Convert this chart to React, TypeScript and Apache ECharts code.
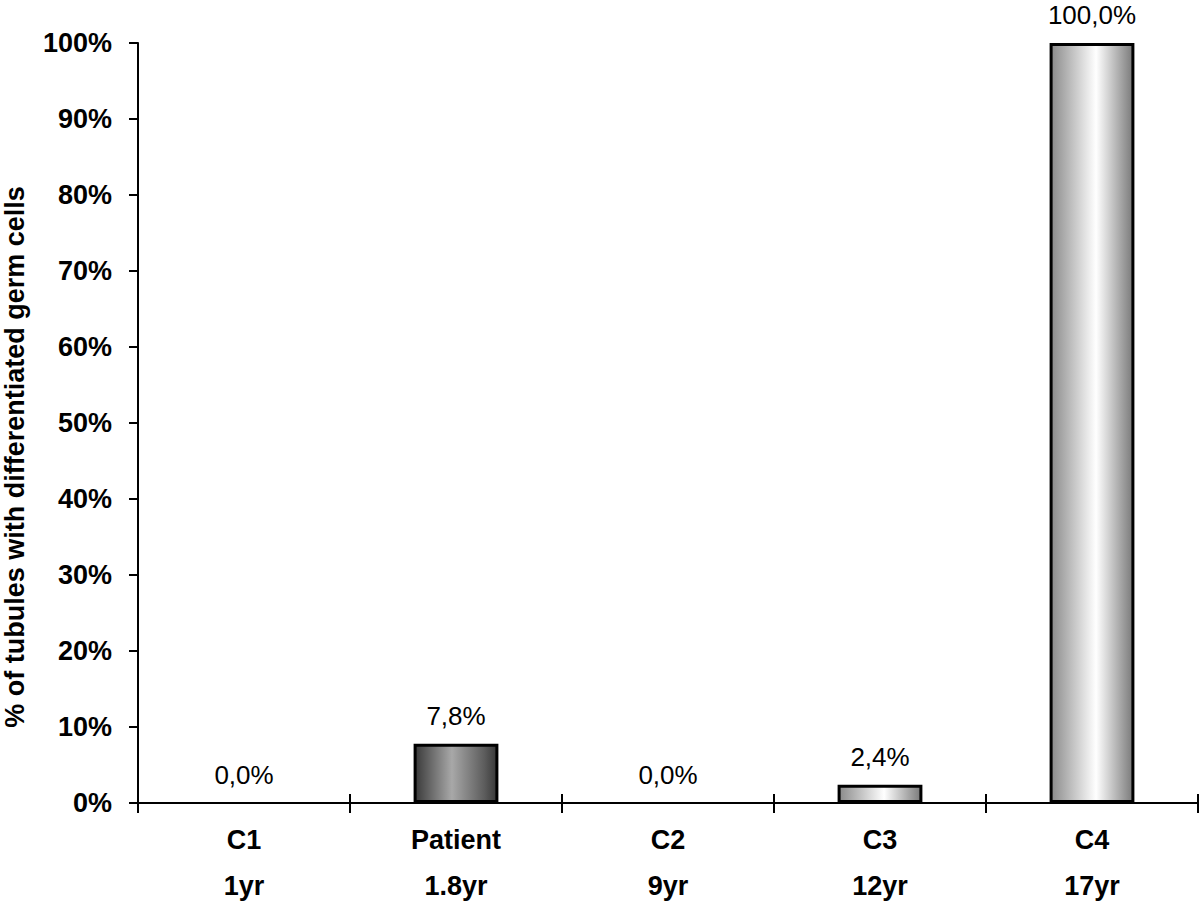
import React, { useEffect, useRef } from "react";
import * as echarts from "echarts";

const categories = ["C1", "Patient", "C2", "C3", "C4"];
const ages = ["1yr", "1.8yr", "9yr", "12yr", "17yr"];
const values = [0, 7.8, 0, 2.4, 100];
const yTicks = [0, 10, 20, 30, 40, 50, 60, 70, 80, 90, 100];
const yTitle = "% of tubules with differentiated germ cells";

const FONT = "'Liberation Sans', Arial, sans-serif";

const darkGrad = new echarts.graphic.LinearGradient(0, 0, 1, 0, [
  { offset: 0, color: "#3a3a3a" },
  { offset: 0.45, color: "#a8a8a8" },
  { offset: 0.85, color: "#5c5c5c" },
  { offset: 1, color: "#383838" },
]);
const lightGrad = new echarts.graphic.LinearGradient(0, 0, 1, 0, [
  { offset: 0, color: "#8a8a8a" },
  { offset: 0.55, color: "#ffffff" },
  { offset: 1, color: "#7a7a7a" },
]);

export default function App() {
  const ref = useRef<HTMLDivElement>(null);
  useEffect(() => {
    if (!ref.current) return;
    const chart = echarts.init(ref.current, null, { renderer: "svg" });
    chart.setOption({
      animation: false,
      backgroundColor: "#ffffff",
      textStyle: { fontFamily: FONT },
      grid: { left: 138, right: 2, top: 43, bottom: 118, containLabel: false },
      xAxis: [
        {
          type: "category",
          data: categories,
          position: "bottom",
          axisLine: { lineStyle: { color: "#000", width: 2 } },
          axisTick: { show: true, length: 10, lineStyle: { color: "#000", width: 2 } },
          axisLabel: {
            margin: 14,
            interval: 0,
            formatter: (v: string) => {
              const i = categories.indexOf(v);
              return "{a|" + v + "}\n{b|" + ages[i] + "}";
            },
            rich: {
              a: { fontFamily: FONT, fontSize: 27, fontWeight: "bold", color: "#000", lineHeight: 46 },
              b: { fontFamily: FONT, fontSize: 27, fontWeight: "bold", color: "#000", lineHeight: 46 },
            },
          },
          splitLine: { show: false },
        },
        {
          type: "category",
          data: categories,
          position: "bottom",
          axisLine: { show: false },
          axisTick: { show: true, inside: true, length: 9, lineStyle: { color: "#000", width: 2 } },
          axisLabel: { show: false },
          splitLine: { show: false },
        },
      ],
      yAxis: {
        type: "value",
        min: 0,
        max: 100,
        interval: 10,
        axisLine: { show: true, lineStyle: { color: "#000", width: 2 } },
        axisTick: { show: true, length: 9, lineStyle: { color: "#000", width: 2 } },
        axisLabel: {
          margin: 26,
          color: "#000",
          fontSize: 27,
          fontWeight: "bold",
          fontFamily: FONT,
          formatter: (v: number) => (yTicks.includes(v) ? v + "%" : ""),
        },
        splitLine: { show: false },
      },
      graphic: [
        {
          type: "text",
          x: 15,
          y: 457,
          rotation: Math.PI / 2,
          style: {
            text: yTitle,
            fontFamily: FONT,
            fontSize: 27,
            fontWeight: "bold",
            fill: "#000",
            align: "center",
            verticalAlign: "middle",
          },
        },
      ],
      series: [
        {
          type: "bar",
          xAxisIndex: 0,
          barWidth: "40%",
          data: values.map((v, i) => ({
            value: v,
            itemStyle: {
              color: i === 1 ? darkGrad : lightGrad,
              borderColor: "#000",
              borderWidth: v > 0 ? 3 : 0,
            },
          })),
          label: {
            show: true,
            position: "top",
            distance: 15,
            color: "#000",
            fontSize: 26,
            fontFamily: FONT,
            formatter: (p: any) => p.value.toFixed(1).replace(".", ",") + "%",
          },
        },
      ],
    });
    return () => chart.dispose();
  }, []);
  return (
    <div
      ref={ref}
      style={{ position: "fixed", left: 0, top: 0, width: 1200, height: 921 }}
    />
  );
}
